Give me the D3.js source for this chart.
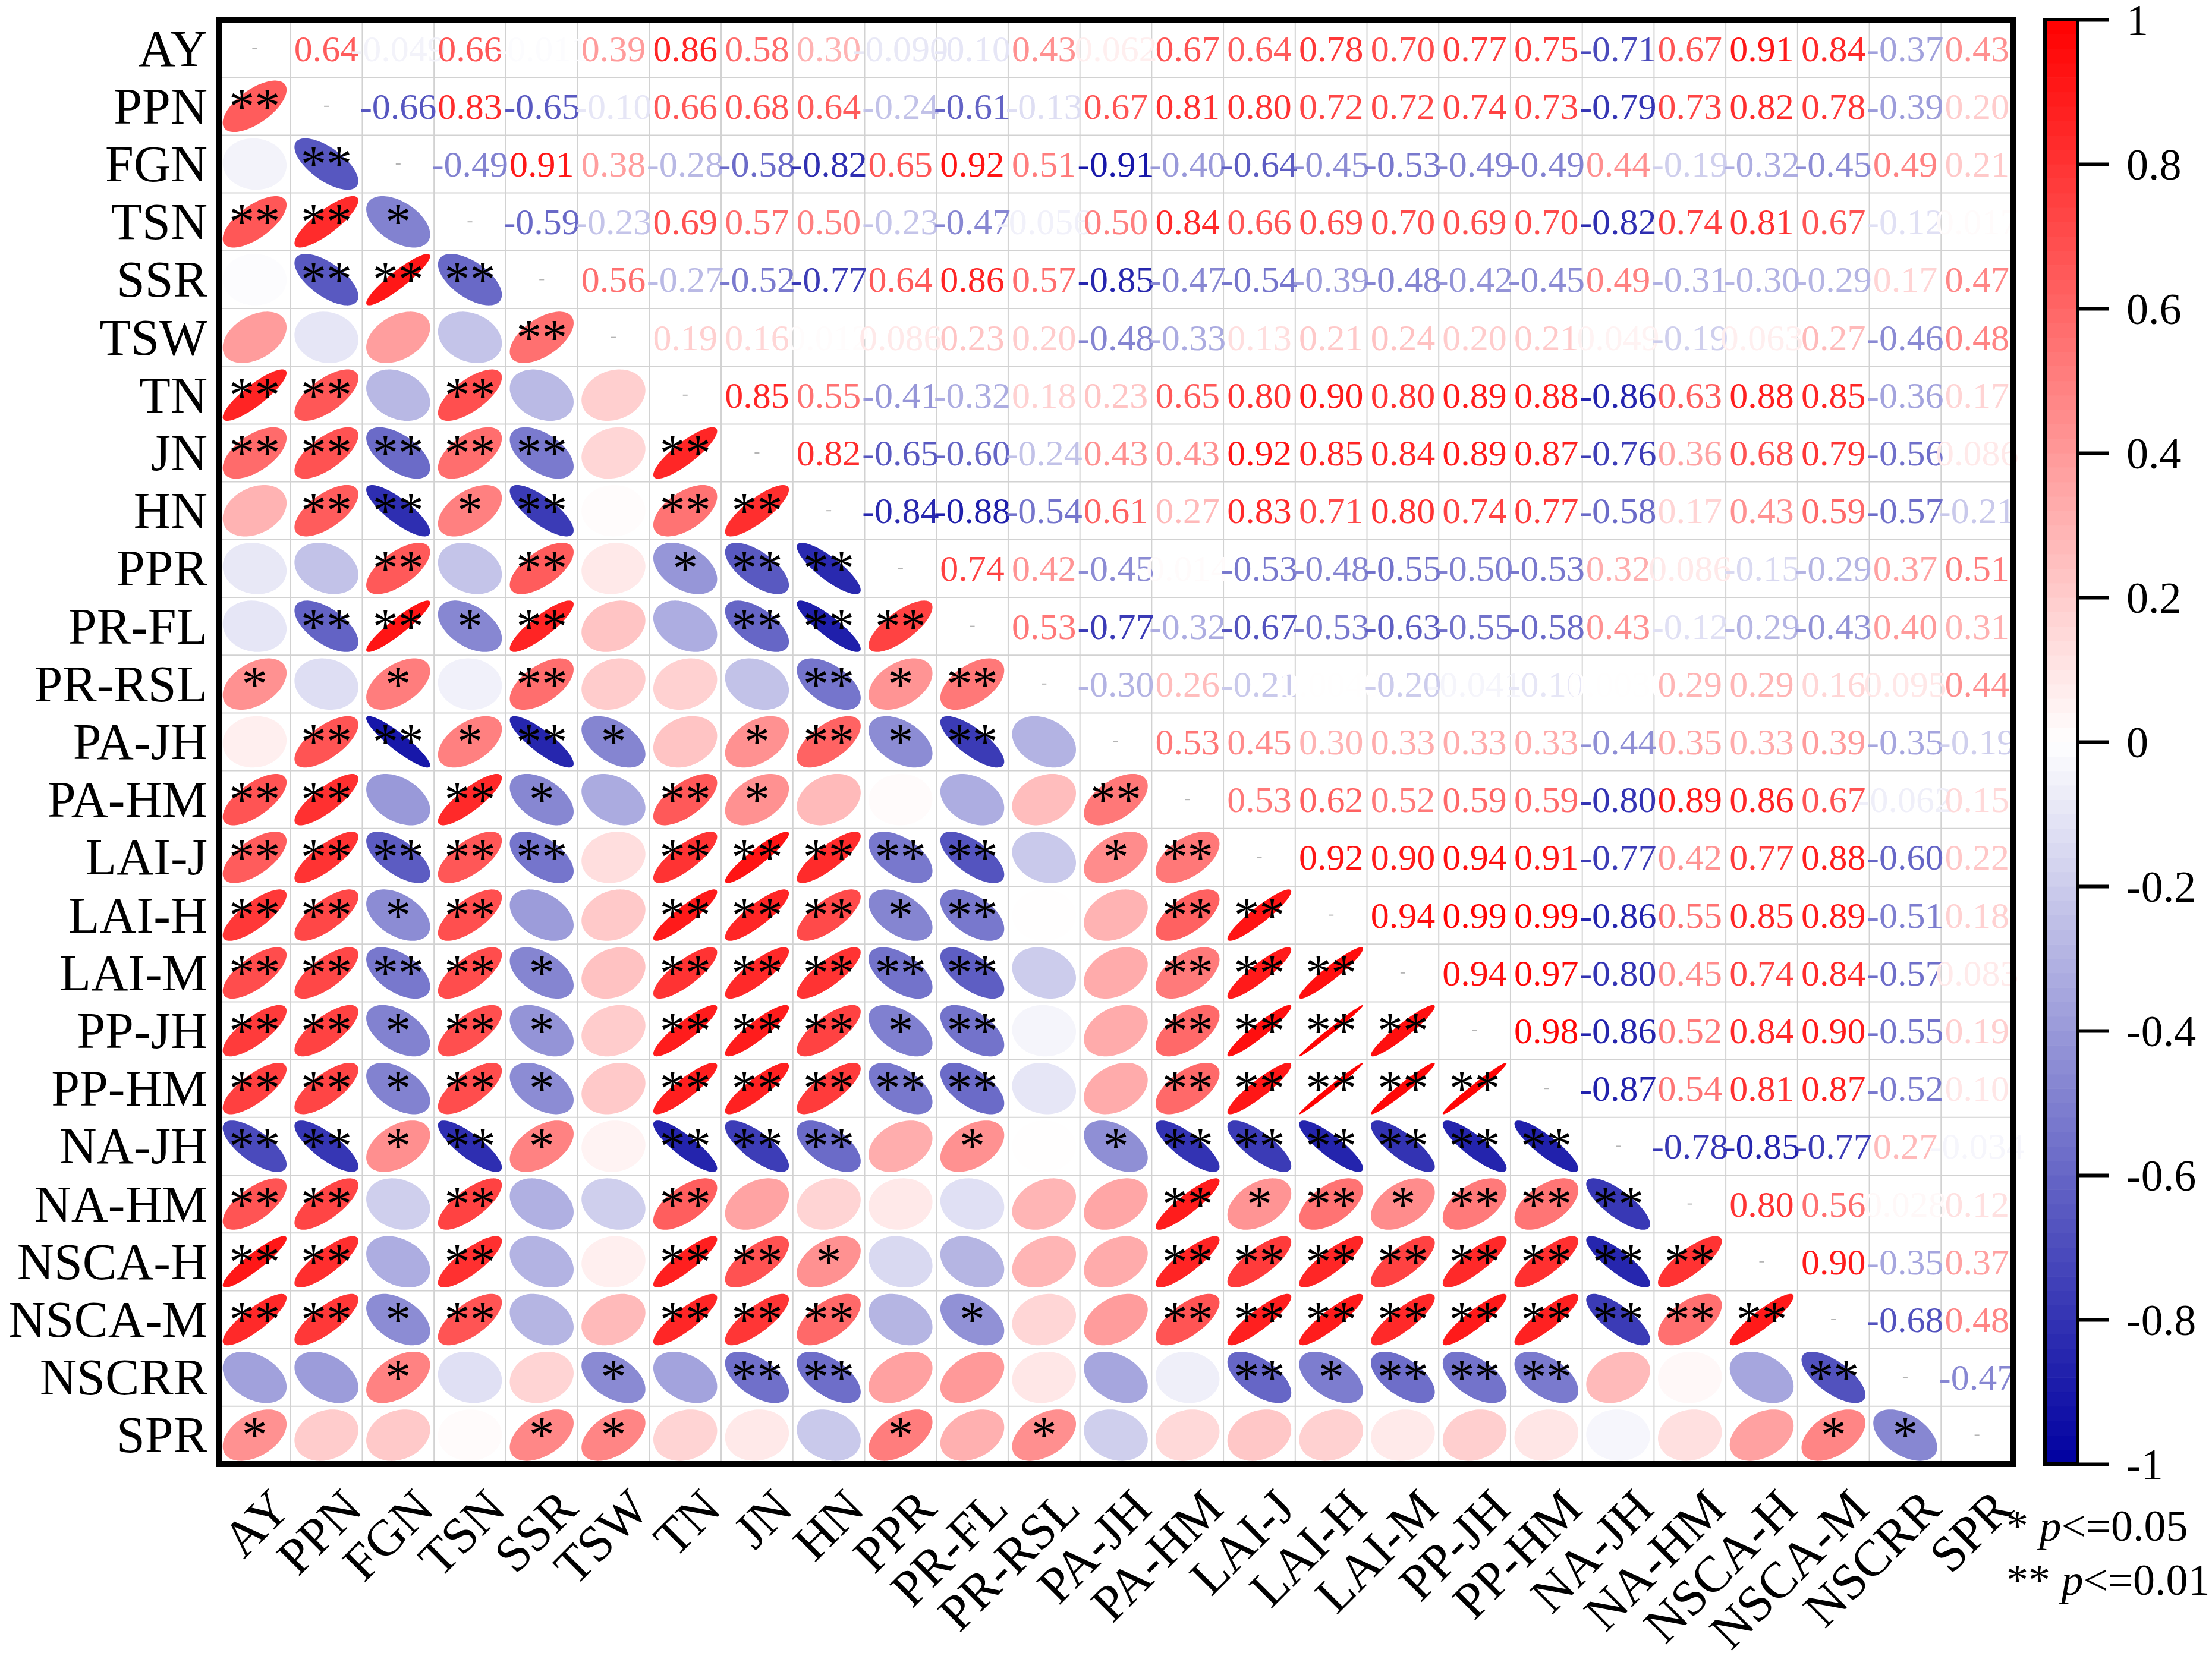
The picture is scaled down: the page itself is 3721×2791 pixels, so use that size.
<!DOCTYPE html>
<html>
<head>
<meta charset="utf-8">
<script src="https://cdn.jsdelivr.net/npm/d3@7"></script>
<style>
  body { margin: 0; background: #fff; }
  svg { display: block; }
</style>
</head>
<body>
<svg id="chart" width="3721" height="2791"></svg>
<script>
// variable names, top to bottom / left to right
var vars = ['AY', 'PPN', 'FGN', 'TSN', 'SSR', 'TSW', 'TN', 'JN', 'HN', 'PPR', 'PR-FL', 'PR-RSL',
  'PA-JH', 'PA-HM', 'LAI-J', 'LAI-H', 'LAI-M', 'PP-JH', 'PP-HM', 'NA-JH', 'NA-HM',
  'NSCA-H', 'NSCA-M', 'NSCRR', 'SPR'];

// upper triangle, one row per variable (values to the right of the diagonal)
var rowAY = [0.64, -0.049, 0.66, -0.011, 0.39, 0.86, 0.58, 0.30, -0.090, -0.10, 0.43, 0.062, 0.67, 0.64, 0.78, 0.70, 0.77, 0.75, -0.71, 0.67, 0.91, 0.84, -0.37, 0.43];
var rowPPN = [-0.66, 0.83, -0.65, -0.10, 0.66, 0.68, 0.64, -0.24, -0.61, -0.13, 0.67, 0.81, 0.80, 0.72, 0.72, 0.74, 0.73, -0.79, 0.73, 0.82, 0.78, -0.39, 0.20];
var rowFGN = [-0.49, 0.91, 0.38, -0.28, -0.58, -0.82, 0.65, 0.92, 0.51, -0.91, -0.40, -0.64, -0.45, -0.53, -0.49, -0.49, 0.44, -0.19, -0.32, -0.45, 0.49, 0.21];
var rowTSN = [-0.59, -0.23, 0.69, 0.57, 0.50, -0.23, -0.47, -0.056, 0.50, 0.84, 0.66, 0.69, 0.70, 0.69, 0.70, -0.82, 0.74, 0.81, 0.67, -0.12, 0.017];
var rowSSR = [0.56, -0.27, -0.52, -0.77, 0.64, 0.86, 0.57, -0.85, -0.47, -0.54, -0.39, -0.48, -0.42, -0.45, 0.49, -0.31, -0.30, -0.29, 0.17, 0.47];
var rowTSW = [0.19, 0.16, 0.012, 0.086, 0.23, 0.20, -0.48, -0.33, 0.13, 0.21, 0.24, 0.20, 0.21, 0.049, -0.19, 0.063, 0.27, -0.46, 0.48];
var rowTN = [0.85, 0.55, -0.41, -0.32, 0.18, 0.23, 0.65, 0.80, 0.90, 0.80, 0.89, 0.88, -0.86, 0.63, 0.88, 0.85, -0.36, 0.17];
var rowJN = [0.82, -0.65, -0.60, -0.24, 0.43, 0.43, 0.92, 0.85, 0.84, 0.89, 0.87, -0.76, 0.36, 0.68, 0.79, -0.56, 0.086];
var rowHN = [-0.84, -0.88, -0.54, 0.61, 0.27, 0.83, 0.71, 0.80, 0.74, 0.77, -0.58, 0.17, 0.43, 0.59, -0.57, -0.21];
var rowPPR = [0.74, 0.42, -0.45, 0.014, -0.53, -0.48, -0.55, -0.50, -0.53, 0.32, 0.086, -0.15, -0.29, 0.37, 0.51];
var rowPRFL = [0.53, -0.77, -0.32, -0.67, -0.53, -0.63, -0.55, -0.58, 0.43, -0.12, -0.29, -0.43, 0.40, 0.31];
var rowPRRSL = [-0.30, 0.26, -0.21, 0.004, -0.20, -0.041, -0.10, 0.003, 0.29, 0.29, 0.16, 0.095, 0.44];
var rowPAJH = [0.53, 0.45, 0.30, 0.33, 0.33, 0.33, -0.44, 0.35, 0.33, 0.39, -0.35, -0.19];
var rowPAHM = [0.53, 0.62, 0.52, 0.59, 0.59, -0.80, 0.89, 0.86, 0.67, -0.062, 0.15];
var rowLAIJ = [0.92, 0.90, 0.94, 0.91, -0.77, 0.42, 0.77, 0.88, -0.60, 0.22];
var rowLAIH = [0.94, 0.99, 0.99, -0.86, 0.55, 0.85, 0.89, -0.51, 0.18];
var rowLAIM = [0.94, 0.97, -0.80, 0.45, 0.74, 0.84, -0.57, 0.083];
var rowPPJH = [0.98, -0.86, 0.52, 0.84, 0.90, -0.55, 0.19];
var rowPPHM = [-0.87, 0.54, 0.81, 0.87, -0.52, 0.10];
var rowNAJH = [-0.78, -0.85, -0.77, 0.27, -0.034];
var rowNAHM = [0.80, 0.56, 0.028, 0.12];
var rowNSCAH = [0.90, -0.35, 0.37];
var rowNSCAM = [-0.68, 0.48];
var rowNSCRR = [-0.47];

var colorTicks = [1, 0.8, 0.6, 0.4, 0.2, 0, -0.2, -0.4, -0.6, -0.8, -1];
// critical |r| for p<=0.05 and p<=0.01
var sigLevels = [0.404, 0.515];
var legendItems = [['*', '0.05'], ['**', '0.01']];

var upperRows = [rowAY, rowPPN, rowFGN, rowTSN, rowSSR, rowTSW, rowTN, rowJN, rowHN, rowPPR,
  rowPRFL, rowPRRSL, rowPAJH, rowPAHM, rowLAIJ, rowLAIH, rowLAIM, rowPPJH, rowPPHM,
  rowNAJH, rowNAHM, rowNSCAH, rowNSCAM, rowNSCRR];

// full symmetric matrix as a flat cell list
var cells = [];
upperRows.forEach(function(vals, i) {
  vals.forEach(function(v, k) {
    var j = i + 1 + k;
    cells.push({row: vars[i], col: vars[j], r: v, upper: true});
    cells.push({row: vars[j], col: vars[i], r: v, upper: false});
  });
});

var font = '"Liberation Serif", "Times New Roman", serif';
var svg = d3.select('#chart');

var x = d3.scaleBand().domain(vars).range([368, 3386]);
var y = d3.scaleBand().domain(vars).range([33, 2463]);
var cw = x.bandwidth(), ch = y.bandwidth();
var color = d3.scaleLinear().domain([-1, 0, 1]).range(['#0000a0', '#ffffff', '#ff0000']);
var fmt = function(v) { return d3.format('.2r')(v).replace('\u2212', '-'); };

svg.append('rect').attr('width', 3721).attr('height', 2791).attr('fill', '#fff');

// grid
var grid = svg.append('g').attr('stroke', '#d2d2d2').attr('stroke-width', 2);
vars.slice(1).forEach(function(v) {
  grid.append('line').attr('x1', x(v)).attr('x2', x(v)).attr('y1', y.range()[0]).attr('y2', y.range()[1]);
  grid.append('line').attr('y1', y(v)).attr('y2', y(v)).attr('x1', x.range()[0]).attr('x2', x.range()[1]);
});

// ellipses in the lower triangle
var k = 0.89;
var ellLine = d3.line();
function ellipsePath(r) {
  var d = Math.acos(r), pts = [];
  for (var t = 0; t <= 2 * Math.PI + 1e-6; t += Math.PI / 60) {
    pts.push([Math.cos(t + d / 2) / 2 * cw * k, -Math.cos(t - d / 2) / 2 * ch * k]);
  }
  return ellLine(pts) + 'Z';
}
var lower = cells.filter(function(c) { return !c.upper; });
svg.append('g').selectAll('path').data(lower).join('path')
  .attr('transform', function(c) { return 'translate(' + (x(c.col) + cw / 2) + ',' + (y(c.row) + ch / 2) + ')'; })
  .attr('d', function(c) { return ellipsePath(c.r); })
  .attr('fill', function(c) { return color(c.r); });

// tiny marks on the diagonal
svg.append('g').selectAll('line').data(vars).join('line')
  .attr('x1', function(v) { return x(v) + cw / 2 - 4; })
  .attr('x2', function(v) { return x(v) + cw / 2 + 4; })
  .attr('y1', function(v) { return y(v) + ch / 2; })
  .attr('y2', function(v) { return y(v) + ch / 2; })
  .attr('stroke', '#b4b4b4').attr('stroke-width', 2);

// coefficients in the upper triangle
var upper = cells.filter(function(c) { return c.upper; });
svg.append('g').attr('font-family', font).attr('font-size', 62).attr('text-anchor', 'middle')
  .selectAll('text').data(upper).join('text')
  .attr('x', function(c) { return x(c.col) + cw / 2; })
  .attr('y', function(c) { return y(c.row) + ch / 2 + 21; })
  .attr('fill', function(c) { return color(c.r); })
  .text(function(c) { return fmt(c.r); });

// significance stars
svg.append('g').attr('font-family', font).attr('font-size', 86).attr('text-anchor', 'middle')
  .selectAll('text').data(lower.filter(function(c) { return Math.abs(c.r) >= sigLevels[0]; })).join('text')
  .attr('x', function(c) { return x(c.col) + cw / 2; })
  .attr('y', function(c) { return y(c.row) + ch / 2 + 29; })
  .attr('fill', '#000')
  .text(function(c) { return Math.abs(c.r) >= sigLevels[1] ? '**' : '*'; });

// frame
svg.append('rect')
  .attr('x', x.range()[0]).attr('y', y.range()[0])
  .attr('width', x.range()[1] - x.range()[0]).attr('height', y.range()[1] - y.range()[0])
  .attr('fill', 'none').attr('stroke', '#000').attr('stroke-width', 10);

// row labels
svg.append('g').attr('font-family', font).attr('font-size', 86).attr('text-anchor', 'end')
  .selectAll('text').data(vars).join('text')
  .attr('x', 349)
  .attr('y', function(v) { return y(v) + ch / 2 + 29; })
  .text(function(v) { return v; });

// column labels, rotated
svg.append('g').attr('font-family', font).attr('font-size', 86).attr('text-anchor', 'end')
  .selectAll('text').data(vars).join('text')
  .attr('transform', function(v) { return 'translate(' + (x(v) + cw / 2 + 64) + ',2542) rotate(-45)'; })
  .text(function(v) { return v; });

// colour bar
var cb = {x: 3440, w: 55, n: 100};
var cy = d3.scaleLinear().domain([-1, 1]).range([2463, 33]);
var steps = d3.range(cb.n).map(function(i) { return -1 + 2 * i / cb.n; });
svg.append('g').selectAll('rect').data(steps).join('rect')
  .attr('x', cb.x).attr('width', cb.w)
  .attr('y', function(s) { return cy(s + 2 / cb.n); })
  .attr('height', cy(-1) - cy(-1 + 2 / cb.n) + 0.6)
  .attr('fill', function(s) { return color(s + 1 / cb.n); });
svg.append('rect').attr('x', cb.x).attr('y', cy(1)).attr('width', cb.w).attr('height', cy(-1) - cy(1))
  .attr('fill', 'none').attr('stroke', '#000').attr('stroke-width', 6);

var cbAxis = d3.axisRight(cy).tickValues(colorTicks).tickSizeInner(52).tickSizeOuter(0).tickPadding(30)
  .tickFormat(function(v) { return String(v).replace('\u2212', '-'); });
var ax = svg.append('g').attr('transform', 'translate(' + (cb.x + cb.w) + ',0)').call(cbAxis);
ax.select('.domain').remove();
ax.selectAll('.tick line').attr('stroke', '#000').attr('stroke-width', 6);
ax.selectAll('.tick text').attr('font-family', font).attr('font-size', 74).attr('fill', '#000').attr('dy', '0.34em');

// significance legend
var leg = svg.append('g').attr('font-family', font).attr('font-size', 74);
legendItems.forEach(function(item, i) {
  var t = leg.append('text').attr('x', 3375).attr('y', 2592 + i * 91);
  t.append('tspan').text(item[0] + ' ');
  t.append('tspan').attr('font-style', 'italic').text('p');
  t.append('tspan').text('<=' + item[1]);
});
</script>
</body>
</html>
